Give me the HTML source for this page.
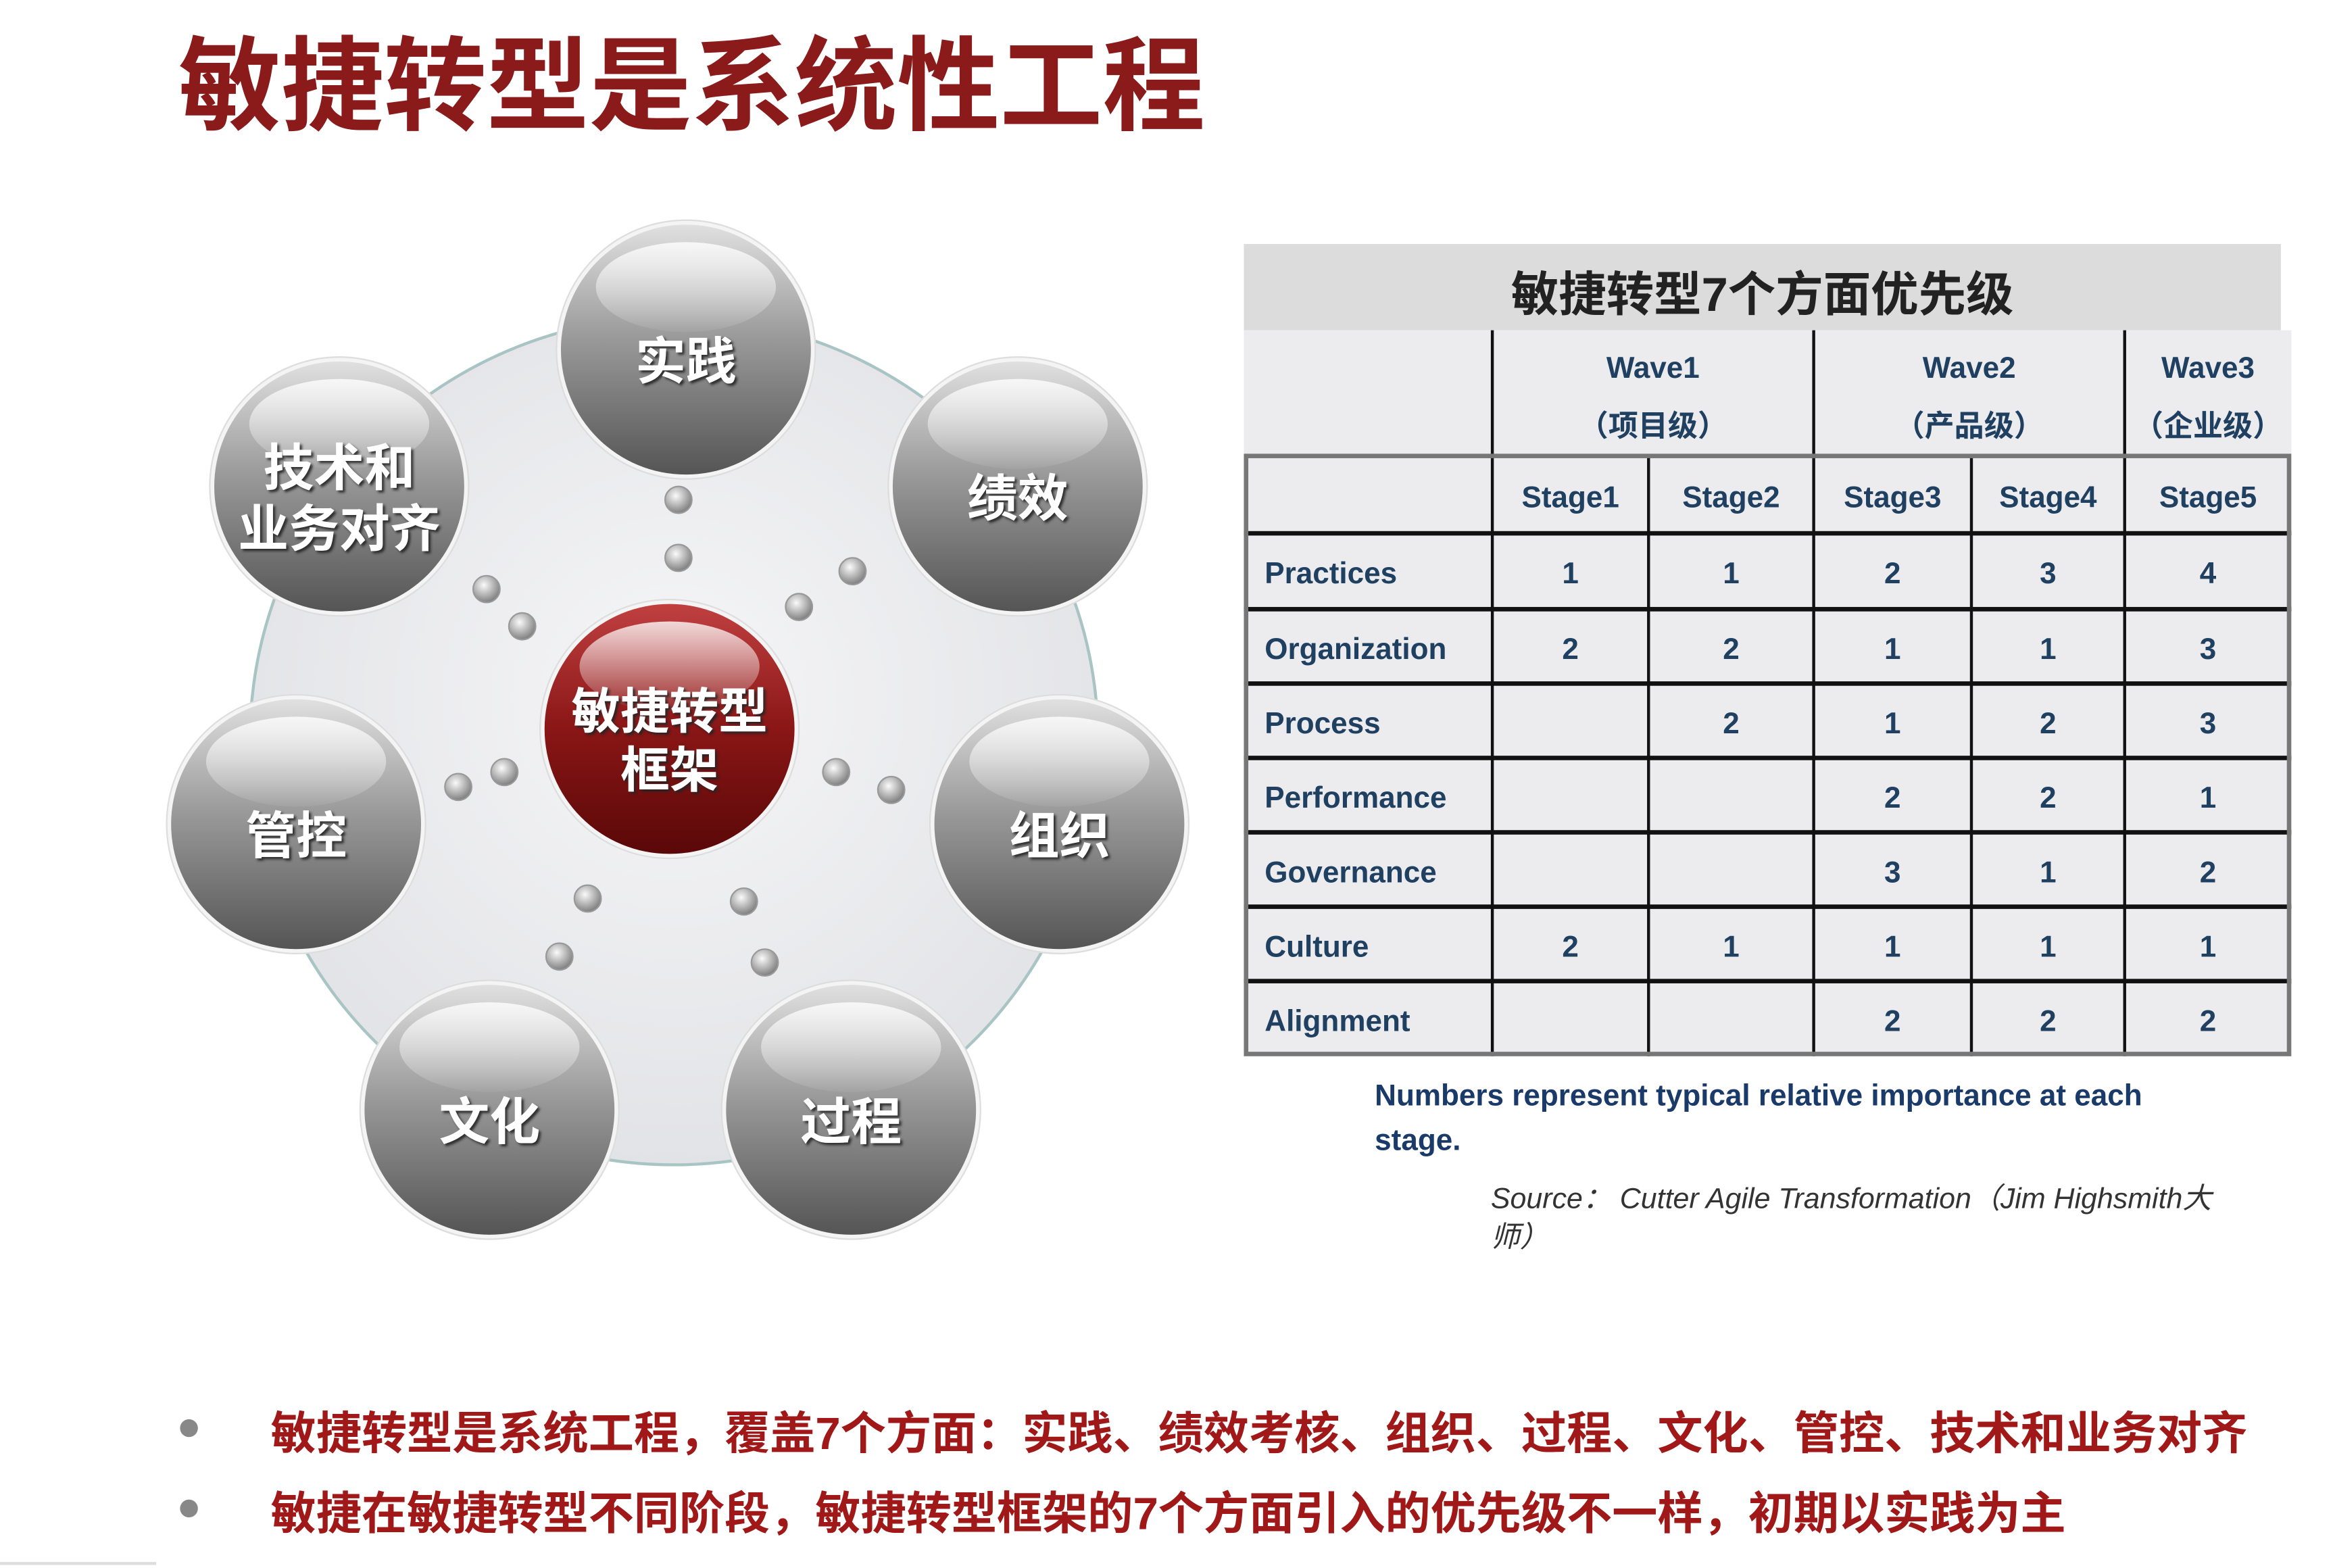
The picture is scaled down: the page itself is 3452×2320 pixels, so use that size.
<!DOCTYPE html>
<html><head><meta charset="utf-8">
<style>
html,body{margin:0;padding:0;background:#fff;}
body{width:3452px;height:2320px;overflow:hidden;position:relative;}
#wrap{position:absolute;left:0;top:0;width:1568px;height:1054px;transform:scale(2.2015,2.2011);transform-origin:0 0;font-family:"Liberation Sans","Noto Sans CJK SC",sans-serif;}
.abs{position:absolute;}
#title{left:120px;top:2px;font-size:69px;font-weight:bold;color:#8b1a1a;white-space:nowrap;}
.tc{position:absolute;display:flex;align-items:center;justify-content:center;color:#1f4060;font-weight:bold;font-size:20px;box-sizing:border-box;}
.bul{left:182px;font-size:30.5px;font-weight:bold;color:#a01818;white-space:nowrap;}
.dot{position:absolute;width:12px;height:12px;border-radius:50%;background:#888;left:121px;}
</style></head>
<body>
<div id="wrap">
<div id="title" class="abs">敏捷转型是系统性工程</div>

<svg class="abs" style="left:0;top:0" width="840" height="860">
<defs>
<radialGradient id="bg" cx="50%" cy="45%" r="55%"><stop offset="0" stop-color="#f6f6f8"/><stop offset="1" stop-color="#e2e3e6"/></radialGradient>
<linearGradient id="gs" x1="0" y1="0" x2="0" y2="1"><stop offset="0" stop-color="#e0e0e0"/><stop offset="0.45" stop-color="#9a9a9a"/><stop offset="1" stop-color="#555"/></linearGradient>
<linearGradient id="rs" x1="0" y1="0" x2="0" y2="1"><stop offset="0" stop-color="#c04040"/><stop offset="0.5" stop-color="#8a1616"/><stop offset="1" stop-color="#5a0808"/></linearGradient>
<linearGradient id="hl" x1="0" y1="0" x2="0" y2="1"><stop offset="0" stop-color="#fff" stop-opacity="0.8"/><stop offset="1" stop-color="#fff" stop-opacity="0.05"/></linearGradient>
<radialGradient id="dg" cx="40%" cy="35%" r="65%"><stop offset="0" stop-color="#fafafa"/><stop offset="1" stop-color="#808080"/></radialGradient>
<filter id="ts" x="-20%" y="-20%" width="140%" height="140%"><feDropShadow dx="1.5" dy="1.5" stdDeviation="0.8" flood-color="#222" flood-opacity="0.9"/></filter>
</defs>
<circle cx="453" cy="498" r="285" fill="url(#bg)" stroke="#a9c4c4" stroke-width="2"/>
<g id="dots"></g>
<g id="spheres"></g>
</svg>

<div class="abs" style="left:836px;top:164px;width:697px;height:58px;background:#dcdcdc;"></div>
<div class="abs" style="left:836px;top:164px;width:697px;height:64px;display:flex;align-items:center;justify-content:center;font-size:32px;font-weight:bold;color:#222;">敏捷转型7个方面优先级</div>
<div class="abs" style="left:836px;top:222px;width:704px;height:488px;background:#ececee;"></div>
<div id="table"></div>

<div class="abs" style="left:924px;top:722px;width:575px;font-size:20px;font-weight:bold;color:#1a3a6a;line-height:30px;">Numbers represent typical relative importance at each stage.</div>
<div class="abs" style="left:1002px;top:793px;width:500px;font-size:19.5px;font-style:italic;color:#333;line-height:26px;">Source： Cutter Agile Transformation（Jim Highsmith大师）</div>

<div class="dot" style="top:954px"></div>
<div class="abs bul" style="top:939px">敏捷转型是系统工程，覆盖7个方面：实践、绩效考核、组织、过程、文化、管控、技术和业务对齐</div>
<div class="dot" style="top:1008px"></div>
<div class="abs bul" style="top:993px">敏捷在敏捷转型不同阶段，敏捷转型框架的7个方面引入的优先级不一样，初期以实践为主</div>
<div class="abs" style="left:0;top:1050px;width:105px;height:2px;background:#ddd"></div>
</div>

<script>
const ns='http://www.w3.org/2000/svg';
const sphereLabels=[['实践'],['绩效'],['组织'],['过程'],['文化'],['管控'],['技术和','业务对齐']];
const sphereCenters=[[461,235],[684,327],[712,554],[572,746],[329,746],[199,554],[228,327]];
const dotCenters=[[456,336],[456,375],[573,384],[537,408],[327,396],[351,421],[308,529],[339,519],[562,519],[599,531],[395,604],[376,643],[500,606],[514,647]];
const dg=document.getElementById('dots');
dotCenters.forEach((d,i)=>{const c=document.createElementNS(ns,'circle');c.setAttribute('cx',d[0]);c.setAttribute('cy',d[1]);c.setAttribute('r',9);c.setAttribute('fill','url(#dg)');c.setAttribute('stroke','#999');


dg.appendChild(c);});
const sg=document.getElementById('spheres');
function sphere(cx,cy,r,fill,lines,name,fs,dy){
 const g=document.createElementNS(ns,'g');
 
 
 g.innerHTML=`<circle cx="${cx}" cy="${cy}" r="${r+3}" fill="#f4f4f4" stroke="#ddd"/><circle cx="${cx}" cy="${cy}" r="${r}" fill="${fill}"/><ellipse cx="${cx}" cy="${cy-r*0.5}" rx="${r*0.72}" ry="${r*0.36}" fill="url(#hl)"/>`;
 lines.forEach((t,j)=>{const tx=document.createElementNS(ns,'text');tx.setAttribute('x',cx);tx.setAttribute('y',cy+dy+fs*0.35+(j-(lines.length-1)/2)*fs*1.2);tx.setAttribute('text-anchor','middle');tx.setAttribute('font-size',fs);tx.setAttribute('font-weight','bold');tx.setAttribute('fill','#fff');tx.setAttribute('filter','url(#ts)');tx.setAttribute('font-family','"Liberation Sans","Noto Sans CJK SC",sans-serif');tx.textContent=t;
 
 
 g.appendChild(tx);});
 sg.appendChild(g);
}
sphereCenters.forEach((c,i)=>sphere(c[0],c[1],84,'url(#gs)',sphereLabels[i],'aspect-sphere',34,8));
sphere(450,490,84,'url(#rs)',['敏捷转型','框架'],'center-sphere',33,8);

const rowLabels=['Practices','Organization','Process','Performance','Governance','Culture','Alignment'];
const stageLabels=['Stage1','Stage2','Stage3','Stage4','Stage5'];
const waveLabels=[['Wave1','（项目级）'],['Wave2','（产品级）'],['Wave3','（企业级）']];
const values=[['1','1','2','3','4'],['2','2','1','1','3'],['','2','1','2','3'],['','','2','2','1'],['','','3','1','2'],['2','1','1','1','1'],['','','2','2','2']];
const colX=[836,1003,1108,1219,1325,1428,1540];
const rowY=[307,358,409,459,509,559,609,659,710];
const T=document.getElementById('table');
function cell(x,y,w,h,html,name,extra){const d=document.createElement('div');d.className='tc';d.style.left=x+'px';d.style.top=y+'px';d.style.width=w+'px';d.style.height=h+'px';if(extra)d.style.cssText+=extra;d.innerHTML=html;
 
 
 T.appendChild(d);}
const waveSpans=[[1,3],[3,5],[5,6]];
waveSpans.forEach((s,i)=>cell(colX[s[0]],222,colX[s[1]]-colX[s[0]],85,`<div style="text-align:center;line-height:39px;margin-top:6px">${waveLabels[i][0]}<br>${waveLabels[i][1]}</div>`,'wave-header'));
stageLabels.forEach((s,i)=>cell(colX[i+1],rowY[0]+3,colX[i+2]-colX[i+1],rowY[1]-rowY[0],s,'stage-header'));
rowLabels.forEach((r,ri)=>{cell(colX[0]+14,rowY[ri+1]+3,colX[1]-colX[0]-14,rowY[ri+2]-rowY[ri+1],r,'row-label','justify-content:flex-start;');
 values[ri].forEach((v,ci)=>cell(colX[ci+1],rowY[ri+1]+3,colX[ci+2]-colX[ci+1],rowY[ri+2]-rowY[ri+1],v,'value-cell'));});
function line(x,y,w,h,c,name){const d=document.createElement('div');d.style.cssText=`position:absolute;left:${x}px;top:${y}px;width:${w}px;height:${h}px;background:${c}`;
 
 
 T.appendChild(d);}
[1,3,5].forEach(i=>line(colX[i]-1,222,2,85,'#111','wave-divider'));
for(let i=1;i<6;i++)line(colX[i]-1,rowY[0],2,rowY[8]-rowY[0],'#111','column-divider');
for(let r=1;r<8;r++)line(colX[0],rowY[r]-1.5,colX[6]-colX[0],3,'#111','row-divider');
const ob=document.createElement('div');ob.style.cssText=`position:absolute;left:${colX[0]}px;top:${rowY[0]-2}px;width:${colX[6]-colX[0]}px;height:${rowY[8]-rowY[0]+2}px;border:3px solid #777;box-sizing:border-box`;


T.appendChild(ob);
</script>
</body></html>
